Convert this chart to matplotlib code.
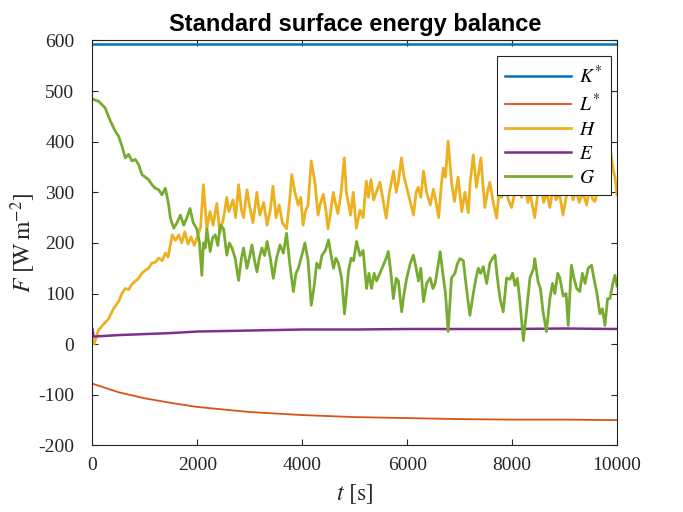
import numpy as np
import matplotlib.pyplot as plt

plt.rcParams['font.family'] = ['Liberation Serif', 'DejaVu Serif']
plt.rcParams['mathtext.fontset'] = 'stix'
plt.rcParams['axes.unicode_minus'] = False

# values (t in s, fluxes in W m^-2)
t_K = [0, 10000]
K = [592, 592]

t_L = [0, 500, 1000, 1500, 2000, 3000, 4000, 5000, 6000, 7000, 8000, 9000, 10000]
L = [-78, -95, -107, -116, -124, -134, -140, -144, -146, -148, -149, -149, -150]

t_E = [0, 20, 500, 1000, 1500, 2000, 2500, 3000, 3500, 4000, 5000, 6000, 7000, 8000, 9000, 10000]
E = [30, 15, 18, 20, 22, 25, 26, 27, 28, 29, 29, 30, 30, 30, 31, 30]

t_H = [0, 30, 115, 200, 306, 400, 497, 560, 625, 690, 750, 820, 880, 940, 1007, 1070,
       1130, 1200, 1260, 1330, 1390, 1440, 1485, 1520, 1580, 1645, 1700, 1760, 1820, 1880,
       1940, 1990, 2060, 2115, 2150, 2180, 2240, 2300, 2370, 2430, 2500, 2560, 2600, 2680,
       2730, 2785, 2840, 2880, 2945, 3000, 3060, 3135, 3190, 3264, 3330, 3390, 3440, 3500,
       3560, 3620, 3700, 3760, 3800, 3860, 3920, 3970, 4015, 4060, 4110, 4170, 4245, 4300,
       4350, 4400, 4450, 4490, 4540, 4590, 4640, 4680, 4740, 4800, 4840, 4875, 4920, 4970,
       5030, 5100, 5160, 5220, 5260, 5310, 5360, 5410, 5480, 5545, 5600, 5660, 5740, 5790,
       5830, 5890, 5940, 5990, 6060, 6120, 6170, 6210, 6260, 6310, 6370, 6440, 6500, 6550,
       6600, 6650, 6690, 6730, 6780, 6845, 6900, 6970, 7040, 7100, 7165, 7200, 7260, 7320,
       7405, 7440, 7480, 7530, 7575, 7640, 7705, 7750, 7800, 7865, 7930, 7990, 8055, 8120,
       8180, 8240, 8300, 8340, 8430, 8480, 8540, 8600, 8660, 8720, 8780, 8840, 8900, 8970,
       9030, 9100, 9160, 9220, 9280, 9350, 9420, 9480, 9540, 9580, 9620, 9680, 9730, 9770,
       9830, 9880, 9920, 9960, 10000]
H = [10, 0, 28, 38, 50, 70, 84, 100, 110, 108, 118, 125, 130, 140, 146, 150,
     160, 162, 170, 165, 180, 172, 196, 216, 205, 216, 200, 222, 198, 212,
     195, 210, 230, 315, 270, 228, 262, 235, 278, 220, 250, 290, 262, 285,
     250, 315, 265, 250, 305, 270, 240, 300, 255, 280, 235, 265, 312, 250,
     275, 240, 228, 285, 335, 300, 275, 290, 235, 262, 275, 362, 316, 255,
     280, 296, 265, 228, 260, 300, 275, 258, 300, 368, 300, 280, 255, 300,
     229, 265, 250, 322, 290, 325, 285, 300, 320, 282, 249, 300, 342, 300,
     320, 368, 330, 310, 280, 255, 300, 310, 290, 342, 300, 275, 306, 280,
     250, 315, 348, 330, 401, 320, 282, 330, 262, 300, 260, 320, 374, 310,
     368, 320, 270, 300, 320, 280, 249, 300, 290, 310, 285, 270, 300, 330,
     290, 320, 280, 300, 250, 290, 320, 280, 300, 270, 310, 285, 300, 255,
     290, 320, 285, 305, 280, 300, 275, 310, 285, 282, 300, 340, 360, 394,
     350, 380, 348, 330, 295]

t_G = [0, 50, 115, 240, 340, 433, 497, 560, 625, 688, 752, 816, 880, 943, 1007, 1070,
       1134, 1198, 1262, 1325, 1390, 1453, 1485, 1550, 1612, 1676, 1740, 1800, 1860, 1920,
       1990, 2040, 2085, 2115, 2150, 2180, 2243, 2290, 2340, 2390, 2435, 2500, 2560, 2610,
       2660, 2720, 2785, 2840, 2880, 2945, 3000, 3040, 3090, 3135, 3180, 3230, 3280, 3330,
       3390, 3447, 3510, 3575, 3640, 3700, 3760, 3830, 3880, 3925, 3990, 4050, 4110, 4170,
       4220, 4275, 4330, 4373, 4440, 4500, 4550, 4595, 4640, 4690, 4750, 4805, 4850, 4882,
       4930, 4977, 5035, 5100, 5160, 5225, 5270, 5320, 5370, 5417, 5480, 5545, 5600, 5640,
       5690, 5736, 5790, 5832, 5895, 5940, 5990, 6060, 6118, 6170, 6215, 6260, 6310, 6370,
       6438, 6490, 6533, 6580, 6628, 6690, 6730, 6780, 6845, 6910, 6960, 7005, 7070, 7130,
       7195, 7260, 7310, 7355, 7400, 7450, 7515, 7575, 7630, 7673, 7720, 7770, 7830, 7895,
       7960, 8010, 8055, 8100, 8150, 8215, 8280, 8340, 8410, 8432, 8495, 8540, 8590, 8655,
       8720, 8770, 8815, 8870, 8910, 8975, 9030, 9070, 9130, 9180, 9230, 9290, 9340, 9390,
       9450, 9515, 9560, 9610, 9675, 9720, 9770, 9820, 9865, 9920, 9960, 10000]
G = [485, 482, 480, 467, 441, 421, 411, 392, 368, 375, 362, 365, 355, 335, 330, 325,
     315, 308, 305, 295, 308, 275, 249, 229, 240, 255, 235, 250, 268, 240,
     228, 200, 136, 200, 190, 228, 183, 210, 216, 195, 235, 228, 176, 200,
     190, 170, 126, 170, 190, 150, 175, 196, 165, 143, 170, 190, 175, 203,
     170, 130, 170, 196, 180, 219, 160, 104, 140, 150, 175, 200, 165, 77,
     110, 160, 150, 175, 185, 206, 175, 150, 170, 160, 130, 60, 110, 145,
     170, 165, 203, 175, 185, 110, 140, 110, 140, 125, 140, 156, 170, 183,
     140, 90, 130, 125, 64, 100, 130, 160, 176, 150, 125, 150, 84, 120,
     131, 110, 120, 150, 183, 131, 100, 25, 131, 140, 160, 169, 165, 110,
     57, 100, 130, 150, 140, 153, 120, 160, 170, 176, 130, 90, 64, 131,
     128, 140, 116, 130, 83, 7, 70, 131, 150, 169, 123, 110, 64, 25,
     90, 120, 100, 140, 131, 95, 100, 37, 156, 130, 110, 104, 140, 120,
     150, 156, 130, 104, 60, 70, 37, 90, 90, 120, 136, 115]

colors = ['#0072BD', '#D95319', '#EDB120', '#7E2F8E', '#77AC30']

fig = plt.figure(figsize=(6.83, 5.12), dpi=100)
ax = fig.add_axes([0.1354, 0.130, 0.768, 0.791])

ax.plot(t_K, K, color=colors[0], lw=1.8, label=r'$K^{*}$')
ax.plot(t_L, L, color=colors[1], lw=1.3, label=r'$L^{*}$')
ax.plot(t_H, H, color=colors[2], lw=2.0, label=r'$H$')
ax.plot(t_E, E, color=colors[3], lw=1.8, label=r'$E$')
ax.plot(t_G, G, color=colors[4], lw=2.0, label=r'$G$')

ax.set_xlim(0, 10000)
ax.set_ylim(-200, 600)
ax.set_xticks(np.arange(0, 10001, 2000))
ax.set_yticks(np.arange(-200, 601, 100))
ax.tick_params(direction='in', top=True, right=True, length=4, width=0.8,
               labelsize=14, colors='#262626')
ax.tick_params(axis='x', pad=8)
ax.tick_params(axis='y', pad=13)
for s in ax.spines.values():
    s.set_color('#262626')
    s.set_linewidth(0.8)

ax.set_xlabel(r'$t\ [\mathrm{s}]$', fontsize=17, color='#262626', labelpad=6)
ax.set_ylabel(r'$F\ [\mathrm{W\,m^{-2}}]$', fontsize=17, color='#262626', labelpad=0)
ax.set_title('Standard surface energy balance', fontsize=17, fontweight='bold',
             family=['Liberation Sans', 'DejaVu Sans'], pad=7)

leg = ax.legend(loc='upper right', bbox_to_anchor=(0.9885, 0.962), borderaxespad=0,
                fontsize=14, handlelength=3.35, handletextpad=0.45, fancybox=False,
                framealpha=1, edgecolor='#262626', labelspacing=0.32, borderpad=0.45)
leg.get_frame().set_linewidth(0.8)

fig.savefig('out.png', dpi=100)
